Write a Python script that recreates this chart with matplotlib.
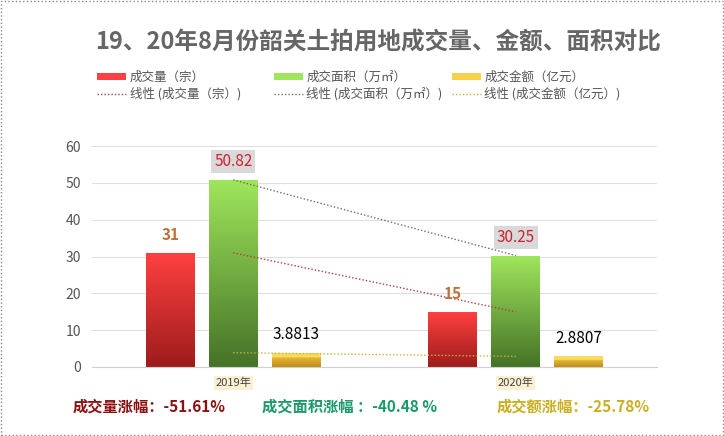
import matplotlib.pyplot as plt
import numpy as np
from matplotlib.patches import Rectangle
from matplotlib.colors import to_rgb

plt.rcParams['font.family'] = ['Noto Sans CJK SC', 'DejaVu Sans']

# data
years = ["2019年", "2020年"]
volume = [31, 15]            # 成交量（宗）
area = [50.82, 30.25]        # 成交面积（万㎡）
amount = [3.8813, 2.8807]    # 成交金额（亿元）
series_names = ["成交量（宗）", "成交面积（万㎡）", "成交金额（亿元）"]
growth_texts = ["成交量涨幅：-51.61%", "成交面积涨幅 ：-40.48 %", "成交额涨幅：-25.78%"]

title = "19、20年8月份韶关土拍用地成交量、金额、面积对比"

fig = plt.figure(figsize=(7.24, 4.36), dpi=100)
fig.patch.set_facecolor('white')
ax = fig.add_axes([0.127, 0.1583, 0.7805, 0.5067])

x = np.arange(len(years)) + 0.5
w = 0.173
step = 0.223

# gradient colours (top, bottom)
grads = [("#ff4040", "#9e1c1c"), ("#9fe65c", "#457327"), ("#f6d24c", "#c08c16")]
trend_colors = ["#b04040", "#707060", "#c8b040"]
all_vals = [volume, area, amount]

handles = []
for i, vals in enumerate(all_vals):
    pos = x + (i - 1) * step
    bars = ax.bar(pos, vals, width=w, color=grads[i][0], zorder=2)
    top = np.array(to_rgb(grads[i][0]))
    bot = np.array(to_rgb(grads[i][1]))
    for b in bars:
        x0, y0 = b.get_x(), b.get_y()
        bw, bh = b.get_width(), b.get_height()
        t = np.linspace(0, 1, 64)[:, None]
        img = (top * (1 - t) + bot * t)[:, None, :]
        if i == 2:
            # gold bar: light band at top
            t2 = np.linspace(0, 1, 64)
            img = np.where((t2 < 0.35)[:, None, None],
                           np.array(to_rgb("#f8dc60"))[None, None, :], img)
        im = ax.imshow(img, extent=[x0, x0 + bw, y0, y0 + bh], aspect='auto',
                       zorder=2.1, interpolation='bilinear')
        im.set_clip_path(b)
    # trend line ("线性")
    ln, = ax.plot(x, vals, linestyle=(0, (1, 1.5)), color=trend_colors[i], lw=1, zorder=3)
    handles.append((bars, ln))

# data labels
for px, v in zip(x - step, volume):
    ax.annotate(f"{v}", (px, v), xytext=(0, 7), textcoords='offset points',
                ha='center', va='bottom', fontsize=11, fontweight='bold', color="#c0703a")
for px, v in zip(x, area):
    ax.annotate(f"{v:.2f}", (px, v), xytext=(0, 7), textcoords='offset points',
                ha='center', va='bottom', fontsize=11, color="#d02030",
                bbox=dict(boxstyle='square,pad=0.2', fc="#d9d9d9", ec='none'))
for px, v in zip(x + step, amount):
    ax.annotate(f"{v}", (px, v), xytext=(0, 7), textcoords='offset points',
                ha='center', va='bottom', fontsize=11, color="black")

ax.set_xlim(0, 2)
ax.set_ylim(0, 60)
ax.set_yticks(range(0, 61, 10))
ax.tick_params(axis='y', length=0, labelsize=10, labelcolor="#555555", pad=8)
ax.set_xticks(x)
ax.set_xticklabels(years, fontsize=8, color="#444444")
for lbl in ax.get_xticklabels():
    lbl.set_bbox(dict(boxstyle='square,pad=0.15', fc="#fbf1d2", ec='none'))
ax.tick_params(axis='x', length=0, pad=8)
ax.grid(axis='y', color="#e0e0e0", lw=0.8, zorder=0)
ax.set_axisbelow(True)
for s in ['top', 'right', 'left']:
    ax.spines[s].set_visible(False)
ax.spines['bottom'].set_color("#d0d0d0")
ax.set_facecolor('none')

# legend: one small legend per series
leg_x = [97, 274, 452]
for (bars, ln), n, lx in zip(handles, series_names, leg_x):
    fig.legend([bars, ln], [n, f"线性 ({n})"], loc='upper left',
               bbox_to_anchor=(lx / 724, 1 - 71 / 436), frameon=False,
               fontsize=9, handlelength=2.3, handleheight=0.5,
               labelspacing=0.25, handletextpad=0.3, borderpad=0,
               borderaxespad=0, labelcolor="#555555")

fig.text(0.522, 0.903, title, ha='center', va='center', fontsize=17,
         fontweight='bold', color="#666666")

gcols = ["#8b1010", "#1a9a6a", "#c8b020"]
gx = [73, 262, 497]
for t, c, xx in zip(growth_texts, gcols, gx):
    fig.text(xx / 724, 1 - 407 / 436, t, ha='left', va='center', fontsize=11,
             fontweight='bold', color=c)

# dotted border
fig.add_artist(Rectangle((0.002, 0.003), 0.996, 0.994, transform=fig.transFigure,
                         fill=False, ls=':', lw=1, ec="#888888"))

fig.savefig("out.png", dpi=100)
